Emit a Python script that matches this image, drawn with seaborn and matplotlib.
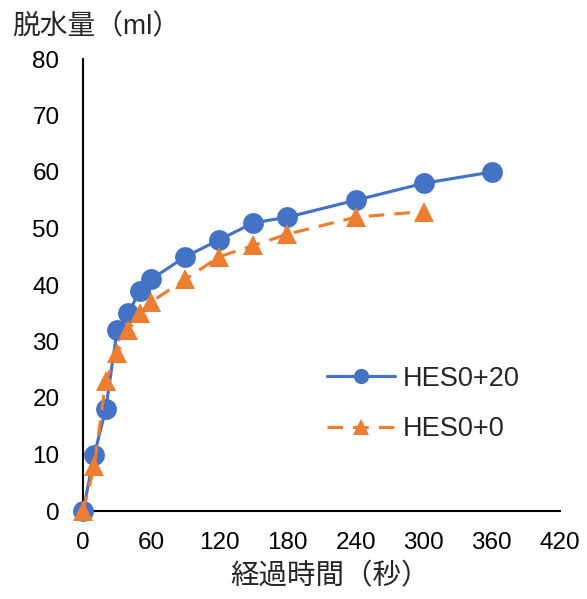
import matplotlib
matplotlib.use("Agg")
import matplotlib.pyplot as plt
import seaborn as sns
import pandas as pd

blue_x = [0, 10, 20, 30, 40, 50, 60, 90, 120, 150, 180, 240, 300, 360]
blue_y = [0, 10, 18, 32, 35, 39, 41, 45, 48, 51, 52, 55, 58, 60]
orange_x = [0, 10, 20, 30, 40, 50, 60, 90, 120, 150, 180, 240, 300]
orange_y = [0, 8, 23, 28, 32, 35, 37, 41, 45, 47, 49, 52, 53]
series_names = ["HES0+20", "HES0+0"]
x_ticks = [0, 60, 120, 180, 240, 300, 360, 420]
y_ticks = [0, 10, 20, 30, 40, 50, 60, 70, 80]

sns.set_style("white")
plt.rcParams['font.family'] = ['Liberation Sans', 'Noto Sans CJK JP', 'DejaVu Sans']

fig = plt.figure(figsize=(5.87, 5.99), dpi=100)
ax = fig.add_axes([83/587, 1 - 511/599, (560-83)/587, (511-59)/599])

df_b = pd.DataFrame({"x": blue_x, "y": blue_y})
df_o = pd.DataFrame({"x": orange_x, "y": orange_y})
sns.lineplot(data=df_b, x="x", y="y", ax=ax, color="#4472C4", lw=2.25,
             marker="o", markersize=15, markeredgewidth=0, label=series_names[0],
             clip_on=False, zorder=5)
sns.lineplot(data=df_o, x="x", y="y", ax=ax, color="#ED7D31", lw=2.25,
             linestyle=(0, (5, 3.2)), marker="^", markersize=15, markeredgewidth=0,
             label=series_names[1], clip_on=False, zorder=6)

ax.set_xlim(0, 420)
ax.set_ylim(0, 80)
ax.set_xticks(x_ticks)
ax.set_yticks(y_ticks)
ax.tick_params(direction="in", length=5, width=1.5, labelsize=17.5, colors="black")
ax.tick_params(axis="y", pad=17)
ax.tick_params(axis="x", pad=15)
for s in ["top", "right"]:
    ax.spines[s].set_visible(False)
for s in ["left", "bottom"]:
    ax.spines[s].set_color("black")
    ax.spines[s].set_linewidth(1.5)
ax.set_xlabel("")
ax.set_ylabel("")
fig.text(330/587, 1 - 577/599, "経過時間（秒）", fontsize=20.5, va="center", ha="center")
fig.text(12/587, 1 - 27/599, "脱水量（ml）", fontsize=20, va="center", ha="left")

leg = ax.legend(loc="center left", bbox_to_anchor=((327-83)/477, (511-404)/452),
                frameon=False, fontsize=19.5, handlelength=2.5, handletextpad=0.3,
                labelspacing=0.9, borderpad=0, borderaxespad=0)
for l in leg.get_lines():
    l.set_markersize(11)
fig.savefig("out.png", dpi=100)
